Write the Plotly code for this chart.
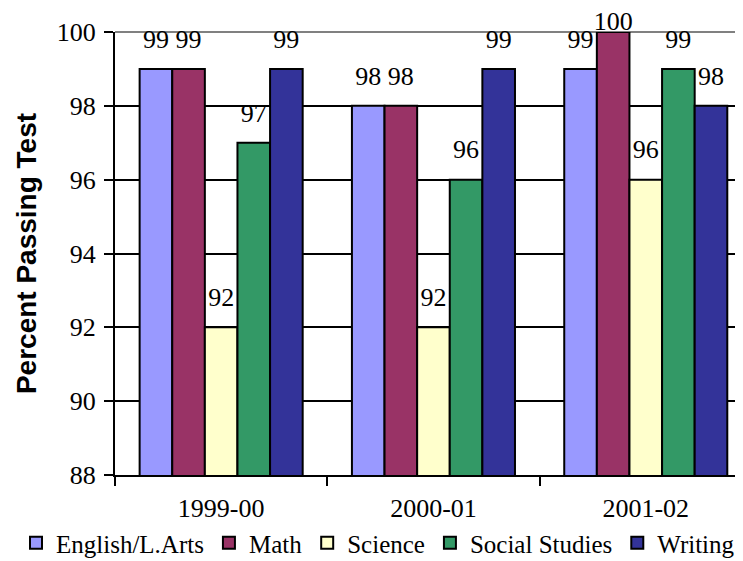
import plotly.graph_objects as go

years = ["1999-00", "2000-01", "2001-02"]
subjects = ["English/L.Arts", "Math", "Science", "Social Studies", "Writing"]
english = [99, 98, 99]
math = [99, 98, 100]
science = [92, 92, 96]
social = [97, 96, 99]
writing = [99, 99, 98]
y_ticks = [88, 90, 92, 94, 96, 98, 100]

series = [english, math, science, social, writing]
colors = ["#9999FF", "#993366", "#FFFFCC", "#339966", "#333399"]

SERIF = "Liberation Serif"
Y_MIN, Y_MAX = 88, 100
LABEL_LIFT = 0.75   # data units above bar top for value labels
TOP_DROP = 0.12     # labels of bars at the top are pulled slightly down

# the page body adds an 8px offset, so the layout is laid out 8px up/left
W, H = 743, 561
ML, MR, MT, MB = 107, 8, 24, 94
PW, PH = W - ML - MR, H - MT - MB

fig = go.Figure()
for i, (name, vals, col) in enumerate(zip(subjects, series, colors)):
    fig.add_trace(go.Bar(
        x=years, y=vals, name=name, offsetgroup=str(i),
        marker=dict(color=col, line=dict(color="black", width=2)),
    ))
for i, (name, vals) in enumerate(zip(subjects, series)):
    fits = [v + LABEL_LIFT <= Y_MAX for v in vals]
    ly = [v + LABEL_LIFT if f else Y_MAX - TOP_DROP for v, f in zip(vals, fits)]
    pos = ["middle center" if f else "top center" for f in fits]
    fig.add_trace(go.Scatter(
        x=years, y=ly, mode="text",
        text=[str(v) for v in vals], textposition=pos,
        textfont=dict(family=SERIF, size=26, color="black"),
        offsetgroup=str(i), showlegend=False, cliponaxis=False,
        hoverinfo="skip",
    ))

fig.update_layout(
    width=W, height=H,
    margin=dict(l=ML, r=MR, t=MT, b=MB, autoexpand=False),
    paper_bgcolor="white", plot_bgcolor="white",
    barmode="group", bargap=0.232, bargroupgap=0,
    scattermode="group", scattergap=0.232,
    font=dict(family=SERIF, size=26, color="black"),
    showlegend=True,
    legend=dict(
        orientation="h", xref="paper", yref="paper",
        x=(8 - ML) / PW, y=(H - MB - 535) / PH, xanchor="left", yanchor="middle",
        font=dict(family=SERIF, size=25, color="black"),
        bgcolor="rgba(0,0,0,0)", itemclick=False, tracegroupgap=0,
    ),
    shapes=[dict(type="line", xref="paper", yref="y domain", x0=0, x1=1, y0=1, y1=1,
                 line=dict(color="#808080", width=2), layer="between")],
)
fig.update_xaxes(
    type="category", range=[-0.5, 2.458], automargin=False,
    tickson="boundaries", ticks="outside", ticklen=9, tickwidth=2, tickcolor="black",
    showline=True, linecolor="black", linewidth=2, showgrid=False,
    tickfont=dict(family=SERIF, size=26, color="black"), ticklabelstandoff=9,
)
fig.update_yaxes(
    range=[Y_MIN, Y_MAX], tickvals=y_ticks, automargin=False,
    ticks="outside", ticklen=9, tickwidth=2, tickcolor="black",
    showline=True, linecolor="black", linewidth=2,
    showgrid=True, gridcolor="black", gridwidth=2, zeroline=False,
    tickfont=dict(family=SERIF, size=26, color="black"), ticklabelstandoff=3,
    title=dict(text="Percent Passing Test", standoff=12,
               font=dict(family="Liberation Sans", size=28, color="black", weight="bold")),
)

fig.write_html("out.html")
